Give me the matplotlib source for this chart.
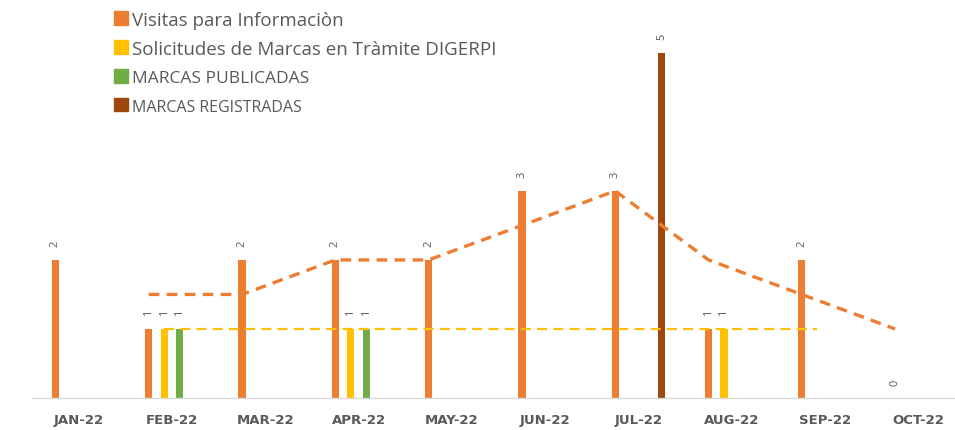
import numpy as np
import matplotlib
matplotlib.use("Agg")
import matplotlib.pyplot as plt
from matplotlib.patches import Patch

plt.rcParams["font.family"] = ["Open Sans", "DejaVu Sans"]

months = ["JAN-22", "FEB-22", "MAR-22", "APR-22", "MAY-22",
          "JUN-22", "JUL-22", "AUG-22", "SEP-22", "OCT-22"]

visitas = [2, 1, 2, 2, 2, 3, 3, 1, 2, 0]
solicitudes = [None, 1, None, 1, None, None, None, 1, None, None]
publicadas = [None, 1, None, 1, None, None, None, None, None, None]
registradas = [None, None, None, None, None, None, 5, None, None, None]

series_names = ["Visitas para Informaciòn",
                "Solicitudes de Marcas en Tràmite DIGERPI",
                "MARCAS PUBLICADAS",
                "MARCAS REGISTRADAS"]
colors = ["#ED7D31", "#FFC000", "#70AD47", "#9E480E"]
gray = "#595959"

fig = plt.figure(figsize=(9.55, 4.31), dpi=100)
ax = fig.add_axes([32 / 955, 32 / 431, 933 / 955, 399 / 431])

x = np.arange(len(months))
step = 0.166
bar_w = 0.078
offsets = [-1.5 * step, -0.5 * step, 0.5 * step, 1.5 * step]

all_series = [visitas, solicitudes, publicadas, registradas]
for vals, off, col in zip(all_series, offsets, colors):
    for i, v in enumerate(vals):
        if v is None:
            continue
        ax.bar(x[i] + off, v, width=bar_w, color=col, zorder=2)
        ax.annotate(str(v), (x[i] + off, v), xytext=(0, 12), textcoords="offset points",
                    rotation=90, ha="center", va="center", fontsize=8, color=gray)

# 2-period moving averages drawn as dashed trend lines
vis = np.array(visitas, dtype=float)
vis_ma = (vis[1:] + vis[:-1]) / 2
ax.plot(x[1:] + offsets[0], vis_ma, color=colors[0], lw=2.4,
        linestyle=(0, (3.2, 2.2)), zorder=3)

sol_idx = [i for i, v in enumerate(solicitudes) if v is not None]
sol_ma = [1] * (sol_idx[-1] + 2 - sol_idx[0])
ax.plot(np.arange(sol_idx[0], sol_idx[-1] + 2) + offsets[1], sol_ma,
        color=colors[1], lw=1.6, linestyle=(0, (4.5, 2.8)), zorder=3)

ax.set_xlim(-0.5, len(months) - 0.5)
ax.set_ylim(0, 5.78)
for s in ["top", "right", "left"]:
    ax.spines[s].set_visible(False)
ax.spines["bottom"].set_color("#D9D9D9")
ax.spines["bottom"].set_linewidth(1)
ax.set_yticks([])
ax.set_xticks(x)
ax.set_xticklabels(months, fontsize=9.5, fontweight="bold", color=gray,
                   family="DejaVu Sans")
ax.tick_params(axis="x", length=0, pad=11)

handles = [Patch(color=c) for c in colors]
leg = ax.legend(handles, series_names, loc="upper left",
                bbox_to_anchor=(74 / 933, 1 - 4 / 399), frameon=False,
                handlelength=0.75, handleheight=0.75, handletextpad=0.25,
                labelspacing=0.6, fontsize=13.5, labelcolor=gray,
                borderaxespad=0)
for t, fs in zip(leg.get_texts(), [13.5, 13.5, 12.5, 11.5]):
    t.set_fontsize(fs)

fig.savefig("out.png", dpi=100)
